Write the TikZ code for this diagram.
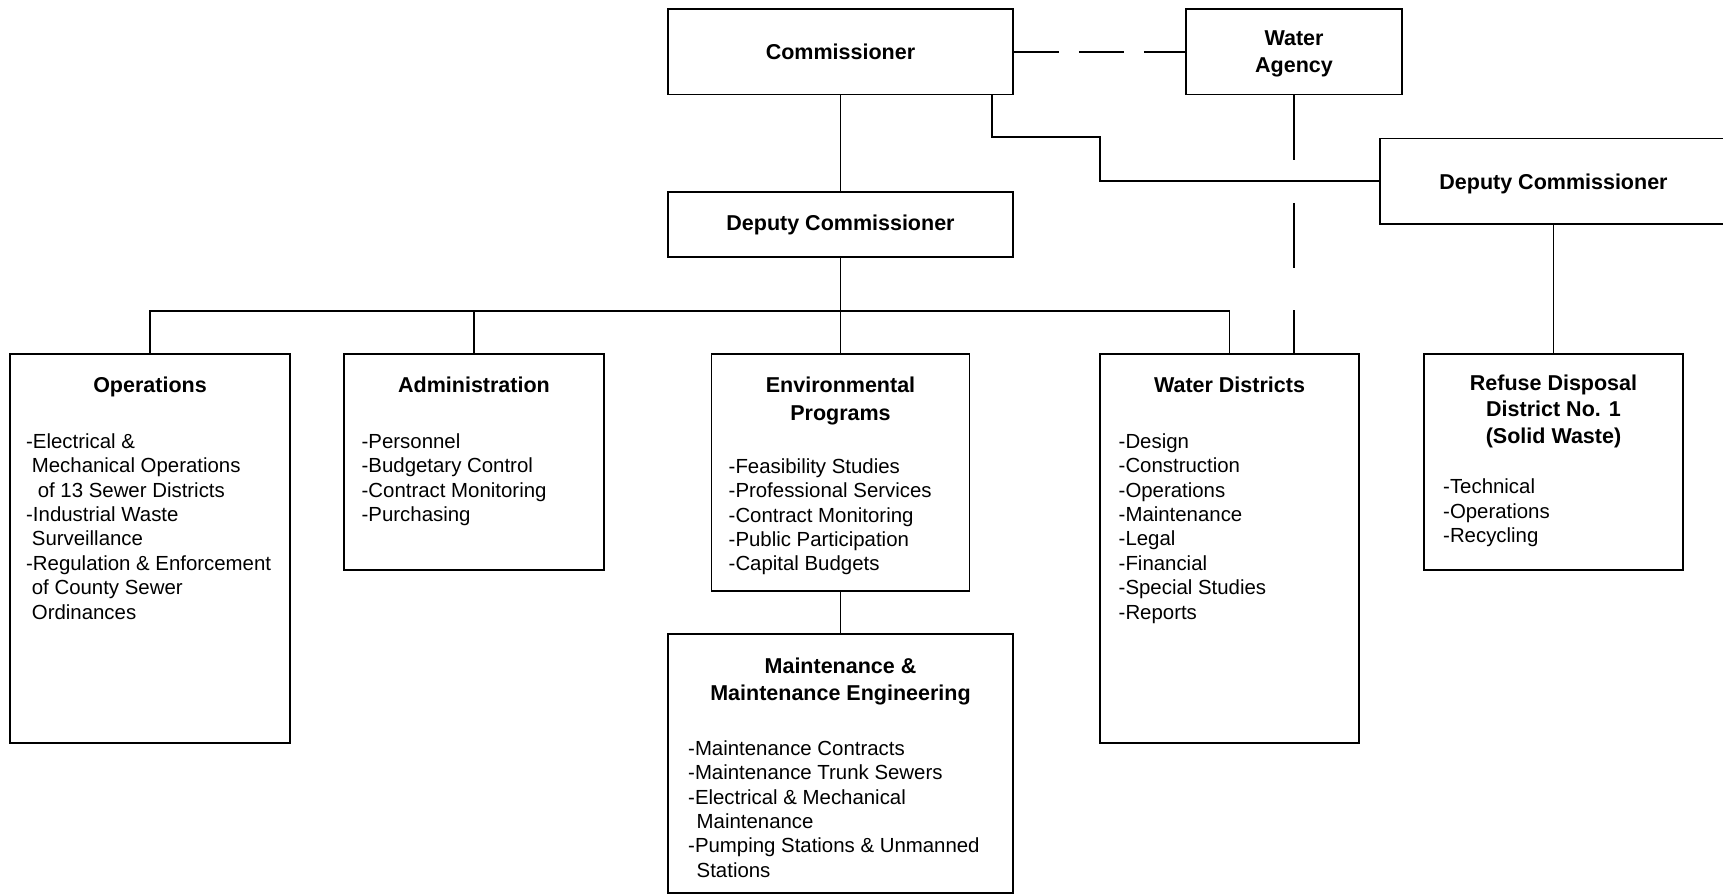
\documentclass[tikz,border=0pt]{standalone}
\usepackage{fontspec}
\setmainfont{Liberation Sans}
\begin{document}
\begin{tikzpicture}[x=1pt,y=-1pt,
  box/.style={draw, line width=1.6pt, inner sep=0pt, rectangle},
  ttl/.style={font=\fontsize{21.5}{26.5}\selectfont\bfseries, align=center, inner sep=0pt},
  lst/.style={font=\fontsize{20.4}{24.4}\selectfont, align=left, anchor=north west, inner sep=0pt},
  conn/.style={line width=1.6pt},
]
\useasboundingbox[fill=white] (0,0) rectangle (1723,895);

% boxes
\node[box, minimum width=345, minimum height=85.5] (comm)  at (840.5,51.75) {};
\node[box, minimum width=216, minimum height=85.5] (wa)    at (1294,51.75) {};
\node[box, minimum width=345, minimum height=65]   (dep)   at (840.5,224.5) {};
\node[box, minimum width=347, minimum height=85.5] (rdep)  at (1553.5,181.25) {};
\node[box, minimum width=280, minimum height=389]  (ops)   at (150,548.5) {};
\node[box, minimum width=260, minimum height=216]  (admin) at (474,462) {};
\node[box, minimum width=258, minimum height=237]  (env)   at (840.5,472.5) {};
\node[box, minimum width=345, minimum height=259]  (maint) at (840.5,763.5) {};
\node[box, minimum width=259, minimum height=389]  (wd)    at (1229.5,548.5) {};
\node[box, minimum width=259, minimum height=216]  (ref)   at (1553.5,462) {};

% titles
\node[ttl] (tcomm) at (comm) {Commissioner};
\node[ttl] (twa) at (1294,54) {Water\\Agency};
\node[ttl] (tdep) at (dep) {Deputy Commissioner};
\node[ttl] (trdep) at (1553.5,183.5) {Deputy Commissioner};
\node[ttl] (tops) at (150,387) {Operations};
\node[ttl] (tadmin) at (474,385) {Administration};
\node[ttl] (tenv) at (840.5,401) {Environmental\\[2pt]Programs};
\node[ttl] (twd) at (1229.5,385) {Water Districts};
\node[ttl] (tref) at (1553.5,411) {Refuse Disposal\\District No. 1\\(Solid Waste)};
\node[ttl] (tmaint) at (840.5,681.5) {Maintenance \&\\[1pt]Maintenance Engineering};

% lists
\node[lst] (lops) at (26,431) {\strut-Electrical \&\\
  \hspace*{5.7pt}Mechanical Operations\\
  \hspace*{11.6pt}of 13 Sewer Districts\\
  -Industrial Waste\\
  \hspace*{5.7pt}Surveillance\\
  -Regulation \& Enforcement\\
  \hspace*{5.7pt}of County Sewer\\
  \hspace*{5.7pt}Ordinances};
\node[lst] (ladmin) at (361.5,431) {\strut-Personnel\\-Budgetary Control\\-Contract Monitoring\\-Purchasing};
\node[lst] (lenv) at (728.5,456) {\strut-Feasibility Studies\\-Professional Services\\-Contract Monitoring\\-Public Participation\\-Capital Budgets};
\node[lst] (lwd) at (1118.5,431) {\strut-Design\\-Construction\\-Operations\\-Maintenance\\-Legal\\-Financial\\-Special Studies\\-Reports};
\node[lst] (lref) at (1443,476.5) {\strut-Technical\\-Operations\\-Recycling};
\node[lst] (lmaint) at (688,738) {\strut-Maintenance Contracts\\
  -Maintenance Trunk Sewers\\
  -Electrical \& Mechanical\\
  \hspace*{8.5pt}Maintenance\\
  -Pumping Stations \& Unmanned\\
  \hspace*{8.5pt}Stations};

% connectors
\coordinate (bar) at (840.5,311);
\coordinate (k1) at (992,137);
\coordinate (k2) at (1100,181.25);
\draw[conn] (comm) -- (dep);
\draw[conn] (dep) -- (env);
\draw[conn] (env) -- (maint);
\draw[conn] (ops.north) |- (bar) -| (wd.north);
\draw[conn] (admin.north) -- (admin.north |- bar);
\draw[conn] (comm.south -| k1) -- (k1) -| (k2) -- (rdep.west);
\draw[conn] (rdep.south) -- (ref.north);
\draw[conn, dash pattern=on 45 off 20] (comm.east) -- (wa.west);
\draw[conn, dash pattern=on 65 off 42.5] (wa.south) -- (wa.south |- wd.north);
\end{tikzpicture}
\end{document}
